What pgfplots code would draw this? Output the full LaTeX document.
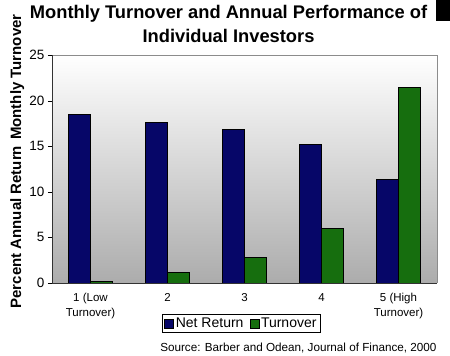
\documentclass[border=0pt]{standalone}
\usepackage{pgfplots}
\pgfplotsset{compat=1.18}
\usepackage{fontspec}
\setmainfont{Liberation Sans}
\definecolor{navybar}{RGB}{6,6,104}
\definecolor{greenbar}{RGB}{22,110,14}
\definecolor{bgbottom}{RGB}{172,172,172}
\begin{document}
\begin{tikzpicture}
\useasboundingbox (0,0) rectangle (450bp,356bp);
\fill[black] (436bp,335bp) rectangle (450bp,356bp);
\begin{axis}[
  at={(52bp,73bp)}, anchor=south west,
  scale only axis, width=385bp, height=228bp,
  xmin=-0.5, xmax=4.5, ymin=0, ymax=25,
  ybar=0pt, bar width=22bp,
  axis line style={draw=none},
  axis background/.style={top color=white, bottom color=bgbottom},
  tick pos=left, tick align=outside,
  xtick={0,1,2,3,4},
  xticklabels={{1 (Low\\Turnover)},2,3,4,{5 (High\\Turnover)}},
  xticklabel style={align=center, font=\fontsize{11.5bp}{15bp}\selectfont, anchor=north, yshift=-3bp},
  major x tick style={draw=none},
  extra x ticks={-0.5,0.5,1.5,2.5,3.5,4.5},
  extra x tick labels={},
  extra x tick style={major tick length=4bp, tick style={black, draw=black}},
  ytick={0,5,10,15,20,25},
  yticklabel style={font=\fontsize{13.5bp}{16bp}\selectfont},
  /pgf/number format/assume math mode=true,
  major tick length=4bp,
  tick style={black},
  legend columns=2,
  legend style={at={(0.492,-0.136)}, anchor=north, draw=black, line width=0.8bp,
    font=\fontsize{14bp}{16bp}\selectfont, inner sep=1.5bp,
    /tikz/every even column/.append style={column sep=4bp}},
  legend image code/.code={\draw[#1, draw=black, line width=0.5bp] (0bp,-4.5bp) rectangle (9bp,4.5bp);},
  clip=false,
]
\addplot[fill=navybar, draw=black, line width=0.6bp] coordinates {(0,18.5) (1,17.65) (2,16.8) (3,15.2) (4,11.35)};
\addplot[fill=greenbar, draw=black, line width=0.6bp] coordinates {(0,0.2) (1,1.2) (2,2.85) (3,6.0) (4,21.45)};
\legend{Net Return, Turnover}
\draw[black!45, line width=0.8bp] (rel axis cs:0,1) -- (rel axis cs:1,1) -- (rel axis cs:1,0);
\draw[black!80, line width=0.8bp] (rel axis cs:0,1) -- (rel axis cs:0,0) -- (rel axis cs:1,0);
\end{axis}
\node[align=center, font=\bfseries\fontsize{18.3bp}{24bp}\selectfont, anchor=north] at (228.5bp,354bp) {Monthly Turnover and Annual Performance of\\Individual Investors};
\node[rotate=90, anchor=base west, font=\bfseries\fontsize{15bp}{17bp}\selectfont] at (21bp,44bp) {Percent Annual Return\hspace{6bp}Monthly Turnover};
\node[anchor=base east, font=\fontsize{11.7bp}{13bp}\selectfont] at (440bp,5bp) {Source: Barber and Odean, Journal of Finance, 2000};
\end{tikzpicture}
\end{document}
